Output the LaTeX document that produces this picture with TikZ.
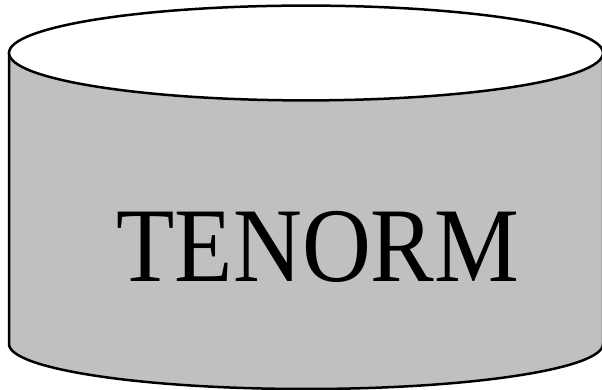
\documentclass[tikz,border=0pt]{standalone}
\usepackage{fontspec}
\setmainfont{Liberation Serif}
\definecolor{bodygray}{HTML}{C0C0C0}
\tikzset{
  outline/.style={draw=black, line width=2.5pt},
  label/.style={font=\fontsize{106}{110}\selectfont, inner sep=0pt, anchor=base, xscale=0.9, transform shape}
}
\begin{document}
\begin{tikzpicture}[x=1pt,y=1pt]
\useasboundingbox (0,0) rectangle (602,390);
\clip (0,0) rectangle (602,390);
\fill[white] (0,0) rectangle (602,390);
% body
\path[outline, fill=bodygray] (9,337) -- (9,46) arc[start angle=180, end angle=360, x radius=297, y radius=45] -- (603,337) -- cycle;
% top ellipse
\path[outline, fill=white] (306,337) ellipse[x radius=297, y radius=47.4];
\node[label] (t) at (318,108) {TENORM};
\end{tikzpicture}
\end{document}
